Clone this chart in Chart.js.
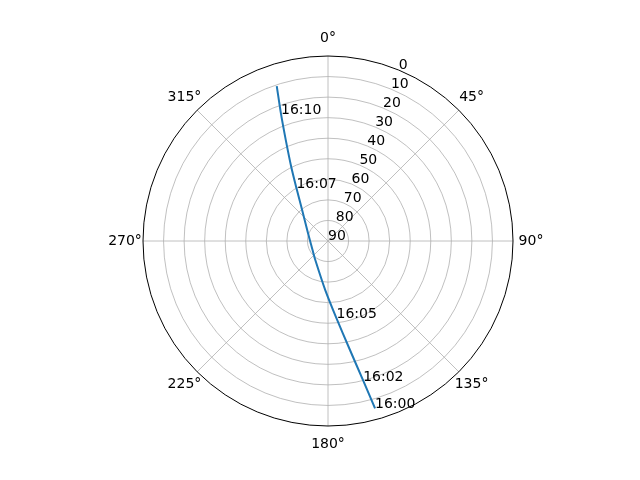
<!DOCTYPE html>
<html>
<head>
<meta charset="utf-8">
<script src="https://cdn.jsdelivr.net/npm/chart.js@4/dist/chart.umd.min.js"></script>
<style>
  body { margin: 0; background: #fff; }
  #wrap { width: 640px; height: 480px; }
</style>
</head>
<body>
<div id="wrap"><canvas id="sky" width="640" height="480"></canvas></div>
<script>
// satellite pass: azimuth (deg, clockwise from north) and elevation (deg)
const trackAz = [164.3, 165.9, 168.6, 174.0, 183.2, 213.8, 239.7, 255.6, 270.0, 291.8, 321.9, 329.2, 333.6, 337.3, 339.7, 341.7];
const trackEl = [5.4, 20.3, 35.9, 52.8, 66.1, 78.9, 81.3, 81.6, 81.3, 79.5, 69.0, 60.0, 49.8, 36.8, 24.1, 10.6];

// time marks along the pass
const markTimes = ['16:00', '16:02', '16:05', '16:07', '16:10'];
const markAz = [164.3, 165.9, 173.7, 329.2, 339.7];
const markEl = [5.4, 19.8, 52.1, 60.0, 24.1];

const thetaTicks = [0, 45, 90, 135, 180, 225, 270, 315];
const rTicks = [0, 10, 20, 30, 40, 50, 60, 70, 80, 90];

function toXY(az, el) {
    const r = 90 - el;
    const a = az * Math.PI / 180;
    return { x: r * Math.sin(a), y: r * Math.cos(a) };
}

const trackPoints = trackAz.map((az, i) => toXY(az, trackEl[i]));

const polarGrid = {
    id: 'polarGrid',
    beforeDatasetsDraw(chart) {
        const ctx = chart.ctx;
        const xs = chart.scales.x, ys = chart.scales.y;
        const cx = xs.getPixelForValue(0), cy = ys.getPixelForValue(0);
        const R = xs.getPixelForValue(90) - cx;
        ctx.save();
        ctx.strokeStyle = '#b0b0b0';
        ctx.lineWidth = 0.8;
        rTicks.forEach(el => {
            const r = xs.getPixelForValue(90 - el) - cx;
            if (r <= 0 || el === 0) return;
            ctx.beginPath();
            ctx.arc(cx, cy, r, 0, Math.PI * 2);
            ctx.stroke();
        });
        thetaTicks.forEach(t => {
            const p = toXY(t, 0);
            ctx.beginPath();
            ctx.moveTo(cx, cy);
            ctx.lineTo(xs.getPixelForValue(p.x), ys.getPixelForValue(p.y));
            ctx.stroke();
        });
        ctx.fillStyle = '#000';
        ctx.font = '14px "DejaVu Sans"';
        ctx.textAlign = 'center';
        ctx.textBaseline = 'middle';
        thetaTicks.forEach(t => {
            const a = t * Math.PI / 180;
            const rr = R + 18;
            ctx.fillText(t + '°', cx + rr * Math.sin(a), cy - rr * Math.cos(a));
        });
        ctx.textAlign = 'left';
        ctx.textBaseline = 'alphabetic';
        rTicks.forEach(el => {
            const p = toXY(22.5, el);
            ctx.fillText(String(el), xs.getPixelForValue(p.x), ys.getPixelForValue(p.y) - 1);
        });
        ctx.restore();
    },
    afterDatasetsDraw(chart) {
        const ctx = chart.ctx;
        const xs = chart.scales.x, ys = chart.scales.y;
        const cx = xs.getPixelForValue(0), cy = ys.getPixelForValue(0);
        const R = xs.getPixelForValue(90) - cx;
        ctx.save();
        ctx.fillStyle = '#000';
        ctx.font = '14px "DejaVu Sans"';
        ctx.textAlign = 'left';
        ctx.textBaseline = 'alphabetic';
        markTimes.forEach((t, i) => {
            const p = toXY(markAz[i], markEl[i]);
            ctx.fillText(t, xs.getPixelForValue(p.x), ys.getPixelForValue(p.y));
        });
        ctx.strokeStyle = '#000';
        ctx.lineWidth = 1;
        ctx.beginPath();
        ctx.arc(cx, cy, R, 0, Math.PI * 2);
        ctx.stroke();
        ctx.restore();
    }
};

new Chart(document.getElementById('sky').getContext('2d'), {
    type: 'scatter',
    data: {
        datasets: [{
            data: trackPoints,
            showLine: true,
            borderColor: '#1f77b4',
            borderWidth: 2,
            pointRadius: 0,
            fill: false,
            tension: 0.25
        }]
    },
    options: {
        responsive: false,
        animation: false,
        layout: { padding: { left: 143, right: 127, top: 56, bottom: 54 } },
        scales: {
            x: { type: 'linear', min: -90, max: 90, display: false },
            y: { type: 'linear', min: -90, max: 90, display: false }
        },
        plugins: {
            legend: { display: false },
            tooltip: { enabled: false }
        }
    },
    plugins: [polarGrid]
});
</script>
</body>
</html>
